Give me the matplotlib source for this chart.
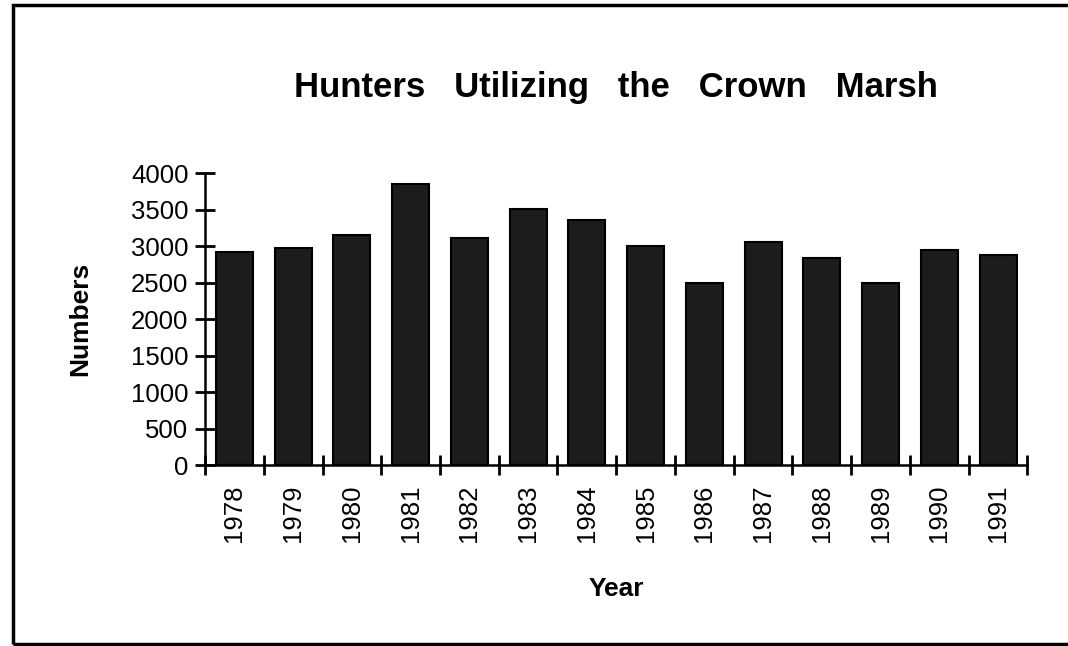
import matplotlib.pyplot as plt
from matplotlib.patches import Rectangle

# data
years = ["1978", "1979", "1980", "1981", "1982", "1983", "1984",
         "1985", "1986", "1987", "1988", "1989", "1990", "1991"]
hunters = [2925, 2970, 3150, 3850, 3110, 3510, 3360,
           3010, 2500, 3060, 2840, 2500, 2945, 2880]
y_ticks = [0, 500, 1000, 1500, 2000, 2500, 3000, 3500, 4000]

plt.rcParams["font.family"] = ["Liberation Sans", "DejaVu Sans"]

fig = plt.figure(figsize=(10.68, 6.46), dpi=100)
ax = fig.add_axes([0.192, 0.280, 0.770, 0.4517])

x = range(len(years))
ax.bar(x, hunters, width=0.63, color="#1c1c1c", edgecolor="black", linewidth=1.5)

ax.set_xlim(-0.5, len(years) - 0.5)
ax.set_ylim(0, 4000)

# spines: only left and bottom
for s in ["top", "right"]:
    ax.spines[s].set_visible(False)
for s in ["left", "bottom"]:
    ax.spines[s].set_linewidth(1.8)

# y ticks cross the axis
ax.set_yticks(y_ticks)
ax.set_yticklabels([str(v) for v in y_ticks], fontsize=18.5)
ax.tick_params(axis="y", direction="inout", length=14, width=2, pad=5)

# x: labels centred under bars, tick marks on the category boundaries
ax.set_xticks(list(x))
ax.set_xticklabels(years, rotation=90, fontsize=18.5)
ax.tick_params(axis="x", which="major", length=0, pad=14)
ax.set_xticks([i - 0.5 for i in range(len(years) + 1)], minor=True)
ax.tick_params(axis="x", which="minor", direction="inout", length=14, width=2)

ax.set_ylabel("Numbers", fontsize=19, fontweight="bold", labelpad=28)
ax.set_xlabel("Year", fontsize=19, fontweight="bold", labelpad=25)
ax.set_title("Hunters   Utilizing   the   Crown   Marsh", fontsize=25,
             fontweight="bold", pad=55)

# outer border
fig.patches.append(Rectangle((13 / 1068, 2 / 646), 1.1, 1 - 7 / 646,
                             transform=fig.transFigure, fill=False,
                             edgecolor="black", linewidth=2.5))

plt.savefig("out.png", dpi=100)
